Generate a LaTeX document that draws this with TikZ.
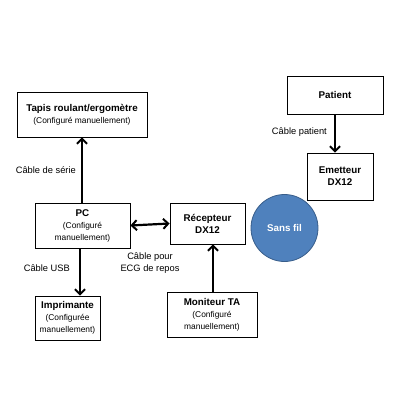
\documentclass[tikz,border=0pt]{standalone}
\usepackage{fontspec}
\setmainfont{Liberation Sans}
\usetikzlibrary{arrows.meta}
\newcommand\subtxt{\fontsize{8.4}{10.5}\selectfont\mdseries}
\begin{document}
\begin{tikzpicture}[x=1pt,y=-1pt,
  tip/.tip={Straight Barb[length=5pt,width=10pt,line width=2pt]},
  box/.style={draw=black,line width=0.8pt,fill=white,inner sep=0pt,align=center,font=\fontsize{9.8}{12}\selectfont\bfseries},
  conn/.style={line width=2.2pt,-tip},
  lab/.style={font=\fontsize{9.3}{12}\selectfont,align=center,inner sep=0pt}]
\useasboundingbox (0,0) rectangle (400,400);
\node[box,minimum width=130pt,minimum height=45pt] (tapis) at (82,114.5) {Tapis roulant/ergomètre\\ \subtxt (Configuré manuellement)};
\node[box,minimum width=95pt,minimum height=45pt] (pc) at (82.5,225.5) {PC\\ \subtxt (Configuré\\ \subtxt manuellement)};
\node[box,minimum width=75pt,minimum height=41pt] (rec) at (207.5,223.5) {Récepteur\\DX12};
\node[box,minimum width=96pt,minimum height=38pt] (pat) at (335,95) {Patient};
\node[box,minimum width=66pt,minimum height=47pt] (emet) at (340,176.5) {Emetteur\\DX12};
\node[box,minimum width=65pt,minimum height=44pt] (impr) at (67.5,318) {Imprimante\\ \subtxt (Configurée\\ \subtxt manuellement)};
\node[box,minimum width=90pt,minimum height=45pt] (moni) at (212,314.5) {Moniteur TA\\ \subtxt (Configuré\\ \subtxt manuellement)};
\node[circle,draw={rgb,255:red,56;green,93;blue,138},line width=0.8pt,fill={rgb,255:red,79;green,129;blue,189},minimum size=67pt,inner sep=0pt,text=white,font=\fontsize{9.8}{12}\selectfont\bfseries] (sans) at (284.5,228) {Sans fil};
\draw[conn] (pc.north -| tapis.south) -- (tapis.south);
\draw[conn] (pat.south) -- (emet.north -| pat.south);
\draw[conn,tip-tip] (pc.east) -- (rec.west);
\draw[conn] (pc.south -| 80,0) -- (impr.north -| 80,0);
\draw[conn] (moni.north -| 213,0) -- (rec.south -| 213,0);
\node[lab,anchor=east] (l1) at (76,170) {Câble de série};
\node[lab,anchor=east] (l2) at (327,132) {Câble patient};
\node[lab,anchor=east] (l3) at (70,268) {Câble USB};
\node[lab] (l4) at (150,263) {Câble pour\\ECG de repos};
\end{tikzpicture}
\end{document}
